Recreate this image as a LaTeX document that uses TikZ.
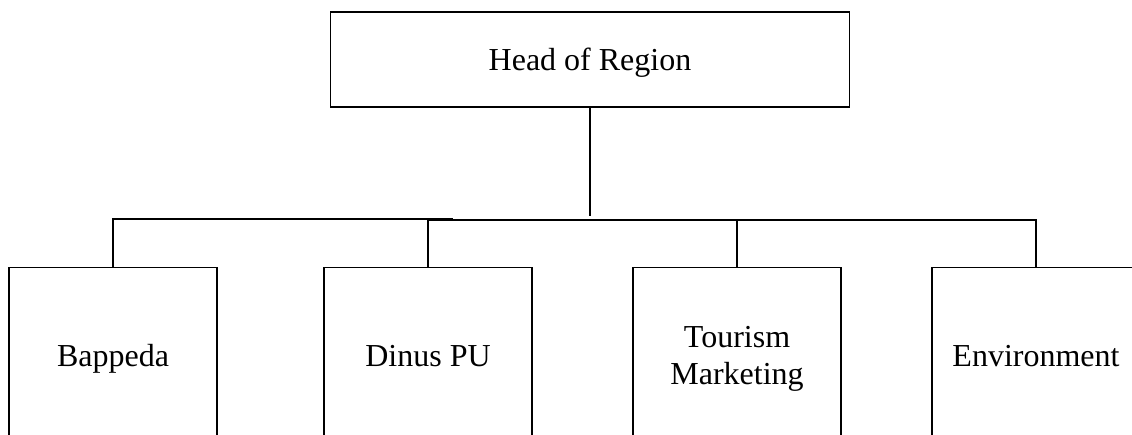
\documentclass[tikz,border=0pt]{standalone}
\usepackage{fontspec}
\setmainfont{Liberation Serif}
\begin{document}
\begin{tikzpicture}[x=1pt,y=-1pt,
  box/.style={draw=black,line width=1.6pt,inner sep=0pt,outer sep=0pt,
    font=\fontsize{32}{37}\selectfont},
  topbox/.style={box,minimum width=519pt,minimum height=95pt,text height=30pt,text depth=7pt},
  unitbox/.style={box,minimum width=208pt,minimum height=178pt,text height=27pt,text depth=7pt},
  multibox/.style={box,minimum width=208pt,minimum height=182pt,align=center},
  link/.style={draw=black,line width=1.6pt}]
\useasboundingbox (0,0) rectangle (1132,435);
\clip (0,0) rectangle (1132,435);
\node[topbox] (head) at (590,59.5) {Head of Region};
\node[unitbox] (bap) at (113,356.5) {Bappeda};
\node[unitbox] (din) at (428,356.5) {Dinus PU};
\node[multibox] (tour) at (737,358.5) {Tourism\hspace{14pt}\\Marketing};
\node[unitbox] (env) at (1036,356.5) {Environment};
\coordinate (hj) at (0,216.5);
\coordinate (jl) at (453,219);
\coordinate (jr) at (0,220);
\draw[link] (head.south) -- (head.south |- hj);
\draw[link] (bap.north) |- (jl);
\draw[link] (din.north) |- (env.north |- jr) -- (env.north);
\draw[link] (tour.north) -- (tour.north |- jr);
\end{tikzpicture}
\end{document}
